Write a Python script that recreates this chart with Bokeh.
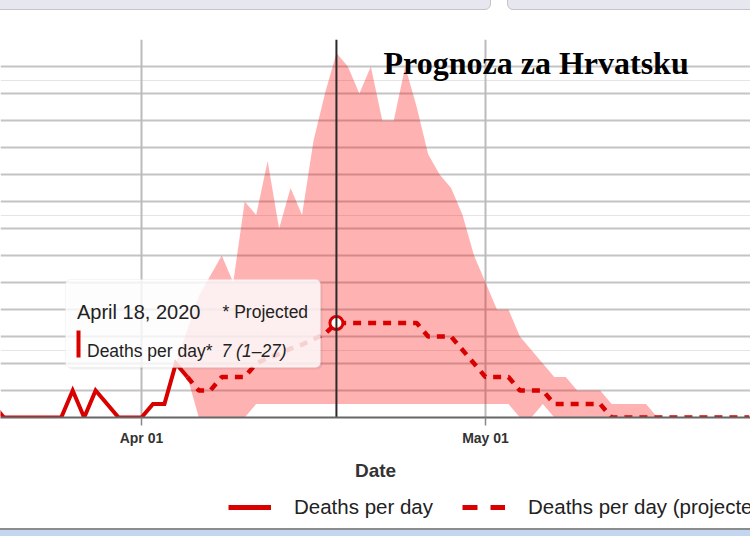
import pandas as pd
from bokeh.plotting import figure
from bokeh.models import (Range1d, FixedTicker, DatetimeTickFormatter, Span, Label,
                          BoxAnnotation, Legend, LegendItem, ColumnDataSource, Div, Grid)
from bokeh.layouts import column
from bokeh.embed import file_html
from bokeh.resources import INLINE

# ---------------- data ----------------
actual_start = "2020-03-19"
actual_deaths = [1, 0, 0, 0, 0, 0, 0, 2, 0, 2, 1, 0, 0, 0, 1, 1, 4, 3]   # Mar 19 .. Apr 5

proj_start = "2020-04-05"
proj_deaths = [3, 2, 2, 3, 3, 3, 4, 4.4, 4.7, 5.1, 5.4, 5.8, 6.2, 7,      # Apr 5 .. Apr 18
               7, 7, 7, 7, 7, 7, 7,                                     # Apr 19 .. Apr 25
               6, 6, 6, 5, 4,                                           # Apr 26 .. Apr 30
               3, 3, 3, 2, 2, 2, 1, 1, 1, 1, 1,                         # May 1 .. May 11
               0, 0, 0, 0, 0, 0, 0, 0, 0, 0, 0, 0, 0]                   # May 12 .. May 24

band_start = "2020-04-04"
band_upper = [4, 6.5, 9, 10.5, 12, 10, 16, 15, 19, 14, 17, 15, 20.5, 24, 27,   # Apr 4 .. Apr 18
              26, 24, 26, 22, 22, 26, 23, 19.5, 18, 17, 15, 12,               # Apr 19 .. Apr 30
              10, 8, 8, 6, 5, 4, 3, 3, 2, 2, 2, 1, 1, 1, 1, 0]                # May 1 .. May 16
band_lower = [4, 3, 0, 0, 0, 0, 0, 1, 1, 1, 1, 1, 1, 1, 1,
              1, 1, 1, 1, 1, 1, 1, 1, 1, 1, 1, 1,
              1, 1, 1, 0, 0, 1, 0, 0, 0, 0, 0, 0, 0, 0, 0, 0]

tick_dates = ["2020-04-01", "2020-05-01"]
tick_labels = ["Apr 01", "May 01"]
y_grid_values = list(range(0, 29, 2))

highlight_date = "2020-04-18"
highlight_value = 7

title_text = "Prognoza za Hrvatsku"
tip_date = "April 18, 2020"
tip_note = "* Projected"
tip_series = "Deaths per day*"
tip_value = "7 (1\u201327)"
legend_labels = ["Deaths per day", "Deaths per day (projected)"]
x_label = "Date"

# ---------------- layout helpers ----------------
RED = "#d90000"
APR1 = pd.Timestamp("2020-04-01")
PX_DAY = 344 / 30.0          # pixels per day
APR1_PX = 141                 # page x of Apr 01
ZERO_PX = 417                 # page y of value 0
PX_UNIT = 13.5                # pixels per death


def ms(ts):
    return pd.Timestamp(ts).value / 1e6


def px_x(px):
    return ms(APR1 + pd.Timedelta(days=(px - APR1_PX) / PX_DAY))


def px_y(py):
    return (ZERO_PX - py) / PX_UNIT


def dates(start, n):
    return list(pd.date_range(start, periods=n, freq="D"))


src_act = ColumnDataSource(dict(x=dates(actual_start, len(actual_deaths)), y=actual_deaths))
src_proj = ColumnDataSource(dict(x=dates(proj_start, len(proj_deaths)), y=proj_deaths))
src_band = ColumnDataSource(dict(x=dates(band_start, len(band_upper)), lo=band_lower, hi=band_upper))

# main chart: page y 12 .. 488
p = figure(width=750, height=476, output_backend="svg", toolbar_location=None,
           x_axis_type="datetime", y_axis_location=None,
           x_range=Range1d(px_x(0), px_x(750)), y_range=Range1d(0, 28),
           min_border_left=0, min_border_right=0, min_border_top=27, min_border_bottom=71)
p.outline_line_color = None
p.background_fill_color = "white"
p.border_fill_color = "white"
p.xgrid.visible = False

tick_ms = [ms(d) for d in tick_dates]
p.add_layout(Grid(dimension=1, ticker=FixedTicker(ticks=y_grid_values),
                  grid_line_color="#c4c4c4", grid_line_width=2))
p.add_layout(Grid(dimension=0, ticker=FixedTicker(ticks=tick_ms),
                  grid_line_color="#bbbbbb", grid_line_width=2))

ax = p.xaxis[0]
ax.ticker = FixedTicker(ticks=tick_ms)
ax.formatter = DatetimeTickFormatter(days="%b %d", months="%b %d", years="%b %d")
ax.major_label_overrides = {t: l for t, l in zip(tick_ms, tick_labels)}
ax.minor_tick_line_color = None
ax.major_tick_in = 0
ax.major_tick_out = 8
ax.major_tick_line_color = "#888888"
ax.major_tick_line_width = 1.5
ax.axis_line_color = "#666666"
ax.axis_line_width = 2
ax.major_label_text_font = "Liberation Sans"
ax.major_label_text_font_size = "14px"
ax.major_label_text_font_style = "bold"
ax.major_label_text_color = "#333333"
ax.major_label_standoff = 4
ax.axis_label = x_label
ax.axis_label_text_font = "Liberation Sans"
ax.axis_label_text_font_size = "19px"
ax.axis_label_text_font_style = "bold"
ax.axis_label_text_color = "#333333"
ax.axis_label_standoff = 11

# uncertainty band
p.varea(x="x", y1="lo", y2="hi", source=src_band, fill_color="#ff0000", fill_alpha=0.3)

# vertical marker line
p.add_layout(Span(location=ms(highlight_date), dimension="height",
                  line_color="#2a2a2a", line_width=2, level="glyph"))

# lines
p.line("x", "y", source=src_act, line_color=RED, line_width=4, line_join="miter")
p.line("x", "y", source=src_proj, line_color=RED, line_width=4.5, line_dash="8 7")
p.scatter([pd.Timestamp(highlight_date)], [highlight_value], size=13, marker="circle",
          fill_color="white", line_color=RED, line_width=3)

# title
p.add_layout(Label(x=px_x(383), y=px_y(62), text=title_text, text_font="Liberation Serif",
                   text_font_size="32px", text_font_style="bold", text_color="black",
                   text_baseline="alphabetic"))

# tooltip
p.add_layout(BoxAnnotation(left=px_x(67), right=px_x(322), top=px_y(281), bottom=px_y(369),
                           fill_color="#000000", fill_alpha=0.06, line_color=None,
                           border_radius=5, level="annotation"))
p.add_layout(BoxAnnotation(left=px_x(65), right=px_x(320), top=px_y(279), bottom=px_y(367),
                           fill_color="white", fill_alpha=0.82, line_color="#dddddd",
                           line_width=1, border_radius=5, level="annotation"))
p.add_layout(BoxAnnotation(left=px_x(76), right=px_x(80), top=px_y(330), bottom=px_y(357),
                           fill_color=RED, fill_alpha=1, line_color=None, level="annotation"))
tip_font = "Liberation Sans"
p.add_layout(Label(x=px_x(76.5), y=px_y(311), text=tip_date, text_font=tip_font,
                   text_font_size="20px", text_color="#222222", text_baseline="alphabetic"))
p.add_layout(Label(x=px_x(222), y=px_y(311), text=tip_note, text_font=tip_font,
                   text_font_size="17.5px", text_color="#222222", text_baseline="alphabetic"))
p.add_layout(Label(x=px_x(86.5), y=px_y(350), text=tip_series, text_font=tip_font,
                   text_font_size="17.5px", text_color="#222222", text_baseline="alphabetic"))
p.add_layout(Label(x=px_x(221), y=px_y(350), text=tip_value, text_font=tip_font,
                   text_font_size="17.5px", text_font_style="italic", text_color="#222222",
                   text_baseline="alphabetic"))

# legend strip: page y 488 .. 526 (sample renderers sit outside the strip's visible range)
lg = figure(width=750, height=38, output_backend="svg", toolbar_location=None,
            x_axis_location=None, y_axis_location=None,
            x_range=Range1d(0, 1), y_range=Range1d(0, 1),
            min_border_left=0, min_border_right=0, min_border_top=0, min_border_bottom=0)
lg.outline_line_color = None
lg.xgrid.visible = False
lg.ygrid.visible = False
r_leg1 = lg.line([-10, -9], [-10, -9], line_color=RED, line_width=5)
r_leg2 = lg.line([-10, -9], [-10, -9], line_color=RED, line_width=5, line_dash="15 13")
legend = Legend(items=[LegendItem(label=legend_labels[0], renderers=[r_leg1]),
                       LegendItem(label=legend_labels[1], renderers=[r_leg2])],
                orientation="horizontal", location=(228, 7),
                padding=0, margin=0, spacing=29, glyph_width=43, glyph_height=20,
                label_standoff=23, label_height=20,
                label_text_font="Liberation Sans", label_text_font_size="20.5px",
                label_text_color="#222222", border_line_color=None,
                background_fill_alpha=0)
lg.add_layout(legend, "center")

# window chrome above and below the chart
top_bar = Div(width=750, height=12, styles={"margin": "0", "padding": "0", "overflow": "hidden"},
              text=('<div style="position:relative;width:750px;height:12px;background:#fff;overflow:hidden;">'
                    '<div style="position:absolute;left:-6px;top:-8px;width:497px;height:18px;'
                    'background:#e7e8ef;border:1px solid #c3c4cc;border-radius:0 0 6px 6px;"></div>'
                    '<div style="position:absolute;left:507px;top:-8px;width:260px;height:18px;'
                    'background:#e7e8ef;border:1px solid #c3c4cc;border-radius:0 0 6px 6px;"></div>'
                    '</div>'))
bottom_bar = Div(width=750, height=10, styles={"margin": "0", "padding": "0", "overflow": "hidden"},
                 text=('<div style="width:750px;height:10px;background:#c3d6ef;'
                       'border-top:2px solid #8c8c8c;box-sizing:border-box;"></div>'))

layout = column(top_bar, p, lg, bottom_bar, spacing=0)
open("out.html", "w").write(file_html(layout, INLINE))
